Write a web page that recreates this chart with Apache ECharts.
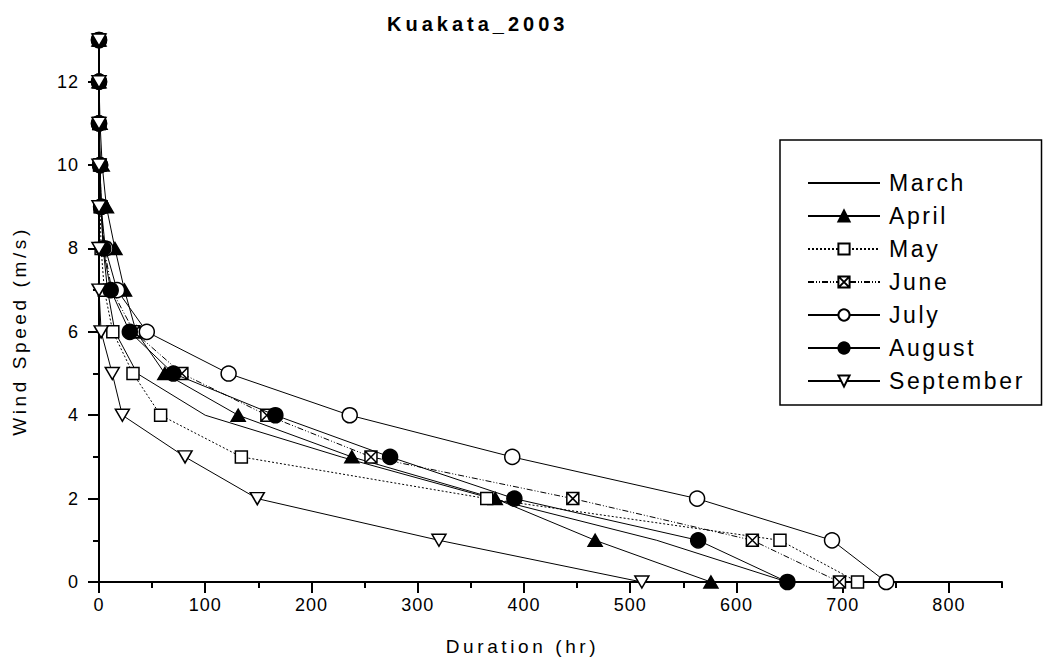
<!DOCTYPE html>
<html>
<head>
<meta charset="utf-8">
<script src="https://cdn.jsdelivr.net/npm/echarts@6/dist/echarts.min.js"></script>
<style>
  html, body { margin: 0; padding: 0; background: #ffffff; }
  #chart { width: 1049px; height: 666px; }
  /* tracking for the different text groups, keyed on their font sizes */
  #chart text[style*="20px"] { letter-spacing: 4px; }
  #chart text[style*="19px"] { letter-spacing: 3.6px; }
  #chart text[style*="23px"] { letter-spacing: 2.6px; }
  #chart text[style*="18px"] { letter-spacing: 1px; }
</style>
</head>
<body>
<div id="chart"></div>
<script>
// Wind speed levels (m/s) on the vertical axis
const windSpeed = [0, 1, 2, 3, 4, 5, 6, 7, 8, 9, 10, 11, 12, 13];

// Duration (hr) at or above each wind speed, per month
const march     = [648, 525, 370, 228, 100, 36, 15, 8, 4, 2, 1, 0.5, 0, 0];
const april     = [576, 467, 373, 238, 131, 62, 35, 24, 15, 7, 3, 1, 0, 0];
const may       = [714, 641, 365, 134, 58, 32, 13, 5, 2, 1, 0.5, 0, 0, 0];
const june      = [697, 615, 446, 256, 158, 78, 33, 12, 5, 2, 1, 0, 0, 0];
const july      = [741, 690, 563, 389, 236, 122, 45, 17, 6, 2, 1, 0, 0, 0];
const august    = [648, 564, 391, 274, 166, 70, 29, 11, 4, 2, 1, 0, 0, 0];
const september = [511, 320, 149, 81, 22, 12.5, 2, 0, 0, 0, 0, 0, 0, 0];

const monthNames = ['March', 'April', 'May', 'June', 'July', 'August', 'September'];

// Axis ticks
const durationTicks = [0, 100, 200, 300, 400, 500, 600, 700, 800];
const durationMinorTicks = [50, 150, 250, 350, 450, 550, 650, 750, 850];
const speedTicks = [0, 2, 4, 6, 8, 10, 12];
const speedMinorTicks = [1, 3, 5, 7, 9, 11];

const FONT = 'Liberation Sans, Arial, sans-serif';
const boxedCross = 'path://M0 0H10V10H0Z M0 0L10 10 M10 0L0 10';
const CLEAR = 'rgba(0,0,0,0)';

function pairs(durations) {
  return durations.map((d, i) => [d, windSpeed[i]]);
}

// March is a plain line: its marker is kept invisible (also in the legend)
const styles = [
  { values: march,     symbol: 'circle',   fill: CLEAR,  stroke: CLEAR, line: 'solid', size: 0 },
  { values: april,     symbol: 'triangle', fill: '#000', line: 'solid', size: [14, 12] },
  { values: may,       symbol: 'rect',     fill: '#fff', line: [2, 2],  size: 12 },
  { values: june,      symbol: boxedCross, fill: '#fff', line: [6, 2, 1, 2, 1, 2], size: 12 },
  { values: july,      symbol: 'circle',   fill: '#fff', line: 'solid', size: 15 },
  { values: august,    symbol: 'circle',   fill: '#000', line: 'solid', size: 15 },
  { values: september, symbol: 'triangle', fill: '#fff', line: 'solid', size: [14, 12], rotate: 180 }
];

const series = styles.map((s, i) => ({
  name: monthNames[i],
  type: 'line',
  data: pairs(s.values),
  symbol: s.symbol,
  symbolSize: s.size,
  symbolRotate: s.rotate || 0,
  showAllSymbol: true,
  lineStyle: { color: '#000', width: 1, type: s.line },
  itemStyle: { color: s.fill, borderColor: s.stroke || '#000', borderWidth: s.stroke ? 0 : 1.5 },
  emphasis: { disabled: true },
  z: 2 + i
}));

const chart = echarts.init(document.getElementById('chart'), null, { renderer: 'svg' });

chart.setOption({
  animation: false,
  backgroundColor: '#ffffff',
  title: {
    text: 'Kuakata_2003',
    left: 382,
    top: 9,
    textStyle: { fontFamily: FONT, fontSize: 20, fontWeight: 'bold', color: '#000' }
  },
  grid: { left: 99, right: 47, top: 40, bottom: 84, containLabel: false },
  legend: {
    orient: 'vertical',
    left: 780,
    top: 140,
    data: monthNames,
    itemWidth: 72,
    itemHeight: 14,
    itemGap: 9,
    padding: [31, 40, 12, 27],
    borderColor: '#000',
    borderWidth: 1.5,
    textStyle: { fontFamily: FONT, fontSize: 23, color: '#000', lineHeight: 24, padding: [0, 0, 0, 4] },
    selectedMode: false
  },
  xAxis: [
    {
      type: 'value',
      min: 0,
      max: 850,
      position: 'bottom',
      name: 'Duration (hr)',
      nameLocation: 'middle',
      nameGap: 55,
      nameTextStyle: { fontFamily: FONT, fontSize: 19, color: '#000', padding: [0, 56, 0, 0] },
      splitLine: { show: false },
      axisLine: { show: true, onZero: false, lineStyle: { color: '#000', width: 2 } },
      axisTick: { show: true, customValues: durationTicks, length: 11, lineStyle: { color: '#000', width: 2 } },
      axisLabel: { customValues: durationTicks, margin: 14, fontFamily: FONT, fontSize: 18, color: '#000' }
    },
    {
      type: 'value',
      min: 0,
      max: 850,
      position: 'bottom',
      splitLine: { show: false },
      axisLine: { show: false },
      axisTick: { show: true, customValues: durationMinorTicks, length: 6, lineStyle: { color: '#000', width: 2 } },
      axisLabel: { show: false }
    }
  ],
  yAxis: [
    {
      type: 'value',
      min: 0,
      max: 13,
      position: 'left',
      name: 'Wind Speed (m/s)',
      nameLocation: 'middle',
      nameGap: 70,
      nameTextStyle: { fontFamily: FONT, fontSize: 19, color: '#000', padding: [0, 40, 0, 0] },
      splitLine: { show: false },
      axisLine: { show: true, onZero: false, lineStyle: { color: '#000', width: 2 } },
      axisTick: { show: true, customValues: speedTicks, length: 11, lineStyle: { color: '#000', width: 2 } },
      axisLabel: { customValues: speedTicks, margin: 20, fontFamily: FONT, fontSize: 18, color: '#000' }
    },
    {
      type: 'value',
      min: 0,
      max: 13,
      position: 'left',
      splitLine: { show: false },
      axisLine: { show: false },
      axisTick: { show: true, customValues: speedMinorTicks, length: 6, lineStyle: { color: '#000', width: 2 } },
      axisLabel: { show: false }
    }
  ],
  series: series
});
</script>
</body>
</html>
